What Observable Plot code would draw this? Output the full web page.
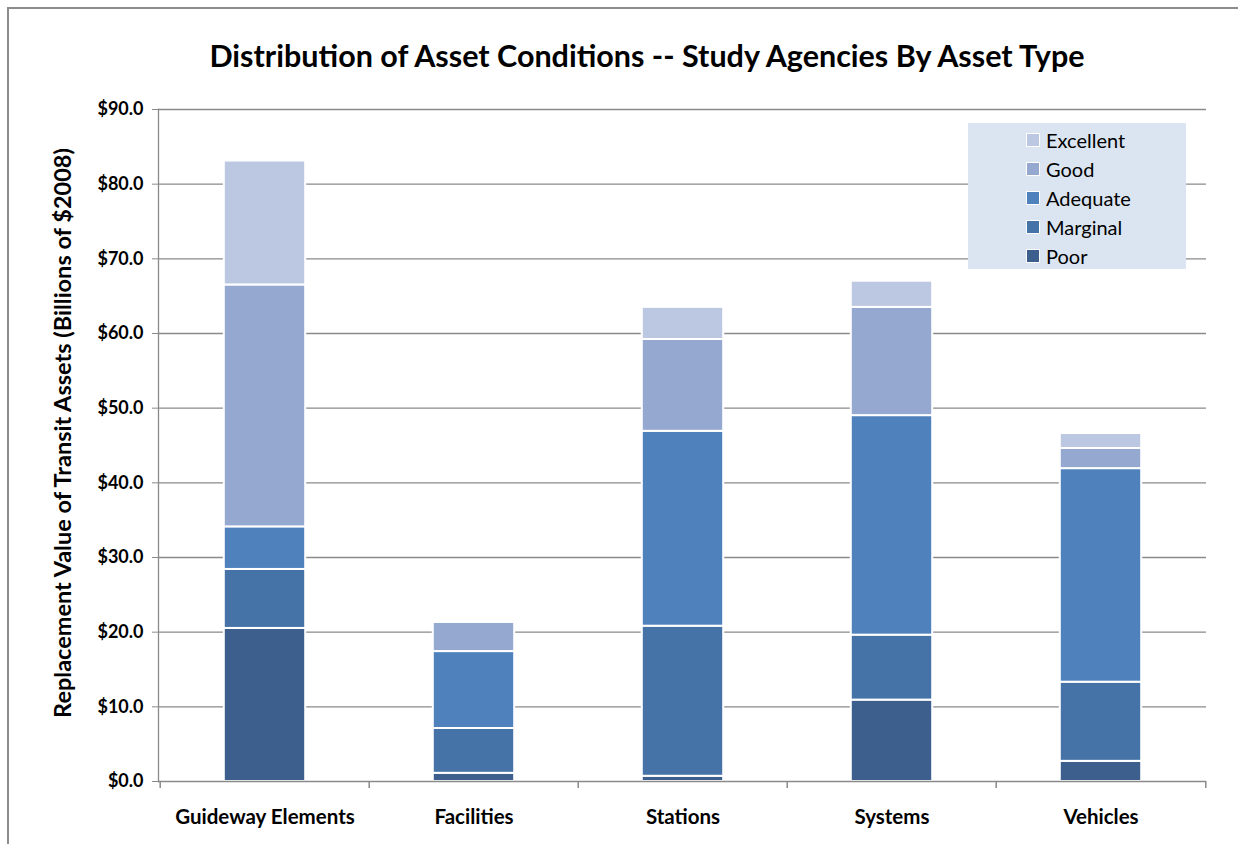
<!DOCTYPE html>
<html>
<head>
<meta charset="utf-8">
<script src="https://cdn.jsdelivr.net/npm/d3@7"></script>
<script src="https://cdn.jsdelivr.net/npm/@observablehq/plot@0.6"></script>
<style>
  html, body { margin: 0; padding: 0; background: #fff; }
  #wrap { position: relative; width: 1238px; height: 844px; overflow: hidden; font-family: Lato, "Open Sans", sans-serif; }
  #frame { position: absolute; left: 7px; top: 7px; width: 1240px; height: 900px; border-top: 2px solid #8c8c8c; border-left: 2px solid #8c8c8c; }
  #title { position: absolute; left: 0; width: 1294px; top: 37px; text-align: center; font-weight: bold; font-size: 30.5px; color: #000; white-space: nowrap; }
  #ylabel { position: absolute; left: 62px; top: 433px; transform: translate(-50%, -50%) rotate(-90deg); font-weight: bold; font-size: 23.5px; white-space: nowrap; color: #000; }
  #legend { position: absolute; left: 968px; top: 123px; width: 218px; height: 146px; background: #DBE5F1; }
  .item { position: absolute; left: 58px; height: 29px; display: flex; align-items: center; font-size: 20px; color: #000; }
  .sw { width: 12px; height: 12px; border: 1px solid #fff; margin-right: 6px; }
  #chart { position: absolute; left: 0; top: 0; }
</style>
</head>
<body>
<div id="wrap">
  <div id="frame"></div>
  <div id="chart"></div>
  <div id="title">Distribution of Asset Conditions -- Study Agencies By Asset Type</div>
  <div id="ylabel">Replacement Value of Transit Assets (Billions of $2008)</div>
  <div id="legend"></div>
</div>
<script>
const categories = ["Guideway Elements", "Facilities", "Stations", "Systems", "Vehicles"];
const conditions = ["Poor", "Marginal", "Adequate", "Good", "Excellent"];
const poor      = [20.5, 1.1, 0.7, 10.9, 2.7];
const marginal  = [7.9, 6.0, 20.1, 8.7, 10.6];
const adequate  = [5.7, 10.3, 26.1, 29.4, 28.6];
const good      = [32.4, 3.9, 12.3, 14.5, 2.7];
const excellent = [16.6, 0, 4.3, 3.5, 2.0];
const yTicks = [0, 10, 20, 30, 40, 50, 60, 70, 80, 90];
const colors = ["#3C5F8D", "#4573A7", "#4F81BD", "#95A9D0", "#BCC8E1"];

const series = [poor, marginal, adequate, good, excellent];
const data = categories.flatMap((c, i) =>
  conditions.map((k, j) => ({category: c, condition: k, value: series[j][i]}))
).filter(d => d.value > 0);

const W = 1238, H = 844, mL = 158, mR = 32, mT = 109, mB = 63;
const band = (W - mL - mR) / categories.length;
const plotH = H - mT - mB;
const gray = "#8a8a8a";

const chart = Plot.plot({
  width: W, height: H,
  marginTop: mT, marginBottom: mB, marginLeft: mL, marginRight: mR,
  style: {fontFamily: "Lato, 'Open Sans', sans-serif", background: "transparent", color: "#000"},
  x: {domain: categories, padding: 0, label: null},
  y: {domain: [0, 90], label: null},
  color: {domain: conditions, range: colors},
  marks: [
    Plot.gridY(yTicks.filter(t => t > 0), {stroke: gray, strokeOpacity: 1, strokeWidth: 1.3}),
    Plot.axisY(yTicks, {tickSize: 6, tickPadding: 9, fontWeight: "bold", fontSize: 18, stroke: gray, tickFormat: d => "$" + d.toFixed(1), label: null}),
    Plot.axisX({tickSize: 0, tickPadding: 28, fontSize: 20.5, fontWeight: "bold", label: null}),
    Plot.ruleX(categories, {x: d => d, dx: -band / 2, insetTop: plotH, insetBottom: -7, stroke: gray, strokeWidth: 1.5}),
    Plot.ruleX(categories.slice(-1), {x: d => d, dx: band / 2, insetTop: plotH, insetBottom: -7, stroke: gray, strokeWidth: 1.5}),
    Plot.barY(data, {x: "category", y: "value", fill: "condition", stroke: "white", strokeWidth: 2, insetLeft: (band - 82) / 2, insetRight: (band - 82) / 2}),
    Plot.ruleY([0], {stroke: gray, strokeWidth: 1.5}),
    Plot.frame({anchor: "left", stroke: gray, strokeWidth: 1.3})
  ]
});
document.getElementById("chart").appendChild(chart);

const legend = document.getElementById("legend");
conditions.slice().reverse().forEach((k, i) => {
  const it = document.createElement("div");
  it.className = "item";
  it.style.top = (2 + i * 29) + "px";
  const sw = document.createElement("div");
  sw.className = "sw";
  sw.style.background = colors[conditions.indexOf(k)];
  const t = document.createElement("span");
  t.textContent = k;
  it.appendChild(sw); it.appendChild(t);
  legend.appendChild(it);
});
</script>
</body>
</html>
